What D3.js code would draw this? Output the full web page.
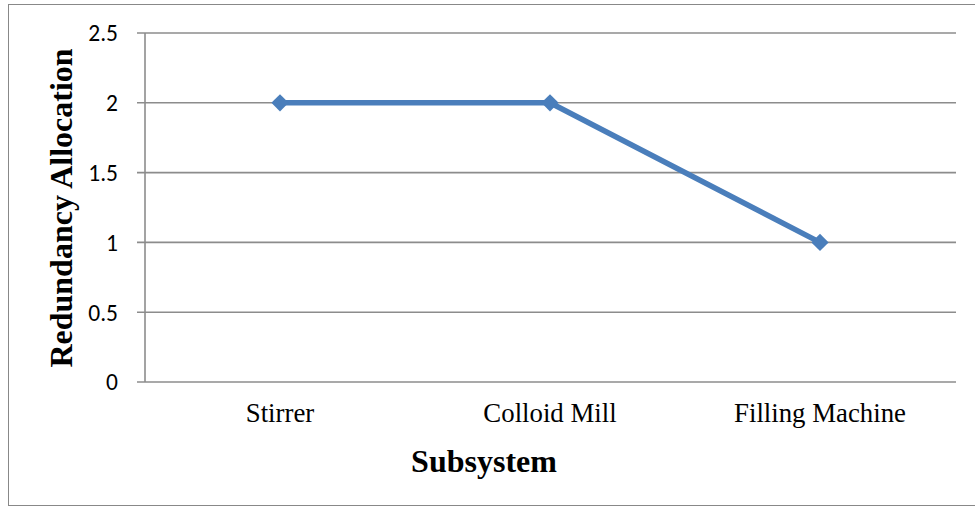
<!DOCTYPE html>
<html><head><meta charset="utf-8">
<script src="https://cdn.jsdelivr.net/npm/d3@7"></script>
<style>body{margin:0;background:#fff}svg{display:block}</style>
</head><body>
<svg id="c" width="975" height="508"></svg>
<script>
const categories = ["Stirrer", "Colloid Mill", "Filling Machine"];
const values = [2, 2, 1];
const yTicks = [0, 0.5, 1, 1.5, 2, 2.5];
const xTitle = "Subsystem";
const yTitle = "Redundancy Allocation";

(function () {
const svg = d3.select("#c");
svg.append("rect").attr("x", 8.5).attr("y", 4.5).attr("width", 975).attr("height", 501)
  .attr("fill", "#fff").attr("stroke", "#888").attr("stroke-width", 1);

const pLeft = 145, pRight = 955, pTop = 33, pBottom = 382;
const x = d3.scaleBand().domain(categories).range([pLeft, pRight]);
const y = d3.scaleLinear().domain([0, 2.5]).range([pBottom, pTop]);

const g = svg.append("g");
g.selectAll("line.grid").data(yTicks).join("line")
  .attr("x1", pLeft - 8).attr("x2", pRight + 1)
  .attr("y1", d => y(d)).attr("y2", d => y(d))
  .attr("stroke", "#8c8c8c").attr("stroke-width", 1.6);
g.append("line").attr("x1", pLeft).attr("x2", pLeft).attr("y1", pTop).attr("y2", pBottom)
  .attr("stroke", "#8c8c8c").attr("stroke-width", 1.6);

g.selectAll("text.yt").data(yTicks).join("text")
  .attr("x", 118).attr("y", d => y(d)).attr("dy", "0.36em")
  .attr("text-anchor", "end").attr("font-family", "Carlito, 'Liberation Sans', Arial, sans-serif")
  .attr("font-size", 23.5).attr("fill", "#000").text(d => d);

g.selectAll("text.xt").data(categories).join("text")
  .attr("x", d => x(d) + x.bandwidth() / 2).attr("y", 422)
  .attr("text-anchor", "middle").attr("font-family", "'Liberation Serif', 'Times New Roman', serif")
  .attr("font-size", 26.8).attr("fill", "#000").text(d => d);

const pts = categories.map((c, i) => [x(c) + x.bandwidth() / 2, y(values[i])]);
g.append("path").attr("d", d3.line()(pts)).attr("fill", "none")
  .attr("stroke", "#4a7ebb").attr("stroke-width", 5.5).attr("stroke-linejoin", "round");
g.selectAll("path.m").data(pts).join("path")
  .attr("d", d3.symbol(d3.symbolDiamond2, 190)())
  .attr("transform", d => `translate(${d[0]},${d[1]})`)
  .attr("fill", "#4a7ebb");

svg.append("text").attr("x", 484).attr("y", 472).attr("text-anchor", "middle")
  .attr("font-family", "'Liberation Serif', 'Times New Roman', serif").attr("font-weight", "bold")
  .attr("font-size", 32).text(xTitle);
svg.append("text").attr("transform", "translate(72,208) rotate(-90)").attr("text-anchor", "middle")
  .attr("font-family", "'Liberation Serif', 'Times New Roman', serif").attr("font-weight", "bold")
  .attr("font-size", 32).text(yTitle);
})();
</script>
</body></html>
